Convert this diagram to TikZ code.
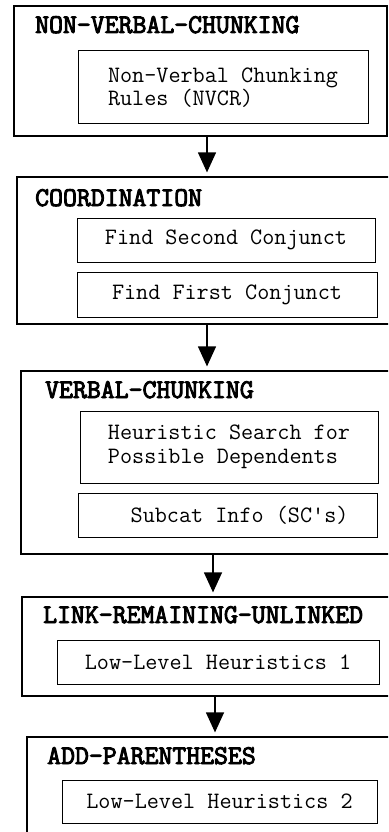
\documentclass[tikz,border=0pt]{standalone}
\usepackage{fontspec}
\newfontfamily\stagefam{Latin Modern Mono}[FakeBold=3.5]
\usetikzlibrary{arrows.meta, positioning}
\newcommand{\rulefont}{\ttfamily\fontsize{23.5}{23.5}\selectfont}
\newcommand{\stagefont}{\stagefam\fontsize{27}{28}\selectfont}

\begin{document}
\begin{tikzpicture}[x=1pt, y=-1pt,
    stage/.style={draw, line width=1.2pt, inner sep=0pt},
    rulebox/.style={draw, line width=1pt, inner sep=0pt, font=\rulefont, align=left},
    stagename/.style={anchor=base west, inner sep=0pt, font=\stagefont},
    flow/.style={line width=1.2pt, shorten >=4pt, -{Triangle[width=18pt, length=20pt]}}]
    \useasboundingbox (0,0) rectangle (388,832);
    \clip (0,0) rectangle (388,832);
    % outer stages
    \node[stage, minimum width=373pt, minimum height=130pt] (nvc) at (200.5,71) {};
    \node[stage, minimum width=378pt, minimum height=147pt] (coord) at (206,250.5) {};
    \node[stage, minimum width=376pt, minimum height=183pt] (verb) at (209,462.5) {};
    \node[stage, minimum width=375pt, minimum height=99pt] (link) at (209.5,646.5) {};
    \node[stage, minimum width=370pt, minimum height=108pt] (paren) at (212,791) {};
    % stage names
    \node[stagename] (nvcname) at (35,33) {NON-VERBAL-CHUNKING};
    \node[stagename] (coordname) at (35,206) {COORDINATION};
    \node[stagename] (verbname) at (45,398) {VERBAL-CHUNKING};
    \node[stagename] (linkname) at (43,623) {LINK-REMAINING-UNLINKED};
    \node[stagename] (parenname) at (47,764) {ADD-PARENTHESES};
    % rule boxes
    \node[rulebox, minimum width=290pt, minimum height=73pt] (nvcr) at (223,87.5)
      {Non-Verbal Chunking\\Rules (NVCR)};
    \node[rulebox, minimum width=298pt, minimum height=44pt] (second) at (226,240)
      {Find Second Conjunct};
    \node[rulebox, minimum width=300pt, minimum height=45pt] (first) at (227,294.5)
      {Find First Conjunct};
    \node[rulebox, minimum width=298pt, minimum height=72pt] (search) at (229,447)
      {Heuristic Search for\\Possible Dependents};
    \node[rulebox, minimum width=299pt, minimum height=44pt] (subcat) at (227.5,515)
      {\ \ Subcat Info (SC's)};
    \node[rulebox, minimum width=322pt, minimum height=44pt] (low1) at (218,662)
      {Low-Level Heuristics 1};
    \node[rulebox, minimum width=315pt, minimum height=43pt] (low2) at (219.5,801.5)
      {Low-Level Heuristics 2};
    % flow between stages
    \foreach \a/\b/\dx in {nvc/coord/6.5, coord/verb/1, verb/link/4, link/paren/5.5}
      \draw[flow] ([xshift=\dx pt]\a.south) -- ([xshift=\dx pt]\a.south |- \b.north);
\end{tikzpicture}
\end{document}
